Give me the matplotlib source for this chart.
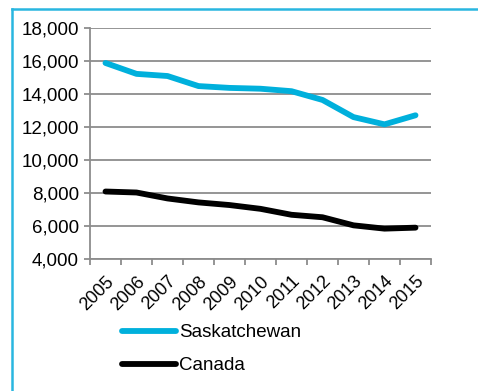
import matplotlib
matplotlib.use('Agg')
import matplotlib.pyplot as plt
from matplotlib.lines import Line2D
from matplotlib.ticker import FuncFormatter

# data
years = ['2005', '2006', '2007', '2008', '2009', '2010',
         '2011', '2012', '2013', '2014', '2015']
saskatchewan = [15880, 15220, 15090, 14480, 14370, 14320,
                14170, 13640, 12600, 12160, 12710]
canada = [8090, 8030, 7670, 7430, 7270, 7040,
          6680, 6530, 6040, 5840, 5900]

plt.rcParams['font.family'] = ['Liberation Sans', 'DejaVu Sans']

fig = plt.figure(figsize=(4.78, 3.91), dpi=100)
ax = fig.add_axes([90 / 478, 1 - 259 / 391, 341 / 478, 231 / 391])

x = [i + 0.5 for i in range(len(years))]
ax.plot(x, saskatchewan, color='#00B0DC', lw=4.2, solid_capstyle='round',
        solid_joinstyle='round', label='Saskatchewan')
ax.plot(x, canada, color='black', lw=4.2, solid_capstyle='round',
        solid_joinstyle='round', label='Canada')

ax.set_xlim(0, len(years))
ax.set_ylim(4000, 18000)
ax.set_yticks(range(4000, 18001, 2000))
ax.yaxis.set_major_formatter(FuncFormatter(lambda v, p: '{:,.0f}'.format(v)))
ax.grid(axis='y', color='#8c8c8c', lw=1.3)
ax.set_axisbelow(True)

ax.set_xticks(range(len(years) + 1))
ax.set_xticklabels([])
ax.set_xticks(x, minor=True)
ax.set_xticklabels(years, minor=True, rotation=45, ha='right',
                   rotation_mode='anchor', fontsize=13)
ax.tick_params(axis='x', which='minor', length=0, pad=10)
ax.tick_params(axis='x', which='major', length=4, width=1.3, color='#8c8c8c')
ax.tick_params(axis='y', length=4, width=1.3, color='#8c8c8c', labelsize=13.5, pad=4)

for s in ['top', 'right']:
    ax.spines[s].set_visible(False)
for s in ['left', 'bottom']:
    ax.spines[s].set_color('#8c8c8c')
    ax.spines[s].set_linewidth(1.3)

ax.legend(loc='upper left', bbox_to_anchor=(122 / 478, 1 - 324 / 391),
          bbox_transform=fig.transFigure, frameon=False, fontsize=13.5,
          handlelength=2.9, handletextpad=0.15, labelspacing=0.85,
          borderpad=0, borderaxespad=0)

# light blue frame, cut off at right and bottom
fig.add_artist(Line2D([12 / 478, 1], [1 - 9 / 391, 1 - 9 / 391],
                      transform=fig.transFigure, color='#29B6E0', lw=1.8))
fig.add_artist(Line2D([12 / 478, 12 / 478], [0, 1 - 9 / 391],
                      transform=fig.transFigure, color='#29B6E0', lw=1.8))

fig.savefig('out.png', dpi=100)
